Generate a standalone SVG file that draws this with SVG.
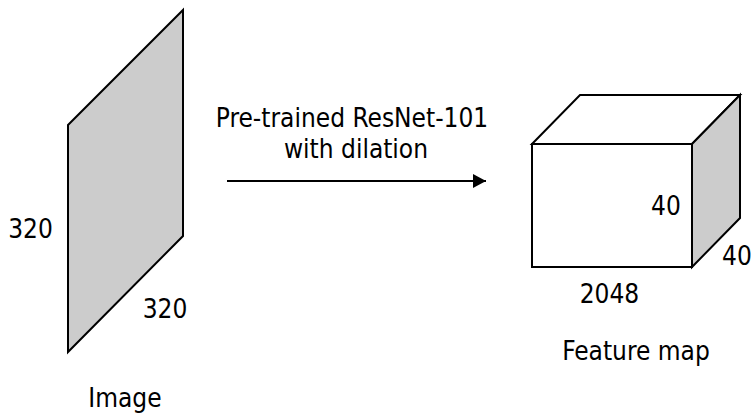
<svg xmlns="http://www.w3.org/2000/svg" width="755" height="413" viewBox="0 0 755 413">
  <style>
    .shape { stroke: #000; stroke-width: 2; stroke-linejoin: miter; }
    .gray { fill: #cccccc; }
    .white { fill: #ffffff; }
    .label { font-family: "DejaVu Sans Condensed", "DejaVu Sans", sans-serif; font-stretch: condensed; font-size: 26px; fill: #000; text-anchor: middle; }
  </style>
  <defs>
    <marker id="arrowhead" markerWidth="14" markerHeight="14" refX="13" refY="7" orient="auto" markerUnits="userSpaceOnUse">
      <path d="M0,0 L13,7 L0,14 Z" fill="#000"/>
    </marker>
  </defs>
  <rect width="755" height="413" fill="#ffffff"/>

  <!-- input image plane -->
  <g id="image">
    <polygon class="shape gray" points="68,125 183,10 183,236 68,352"/>
    <text class="label" x="30.5" y="238">320</text>
    <text class="label" x="165" y="318">320</text>
    <text class="label" x="125" y="407">Image</text>
  </g>

  <!-- backbone transform -->
  <g id="connectors">
    <line x1="227" y1="181" x2="486" y2="181" stroke="#000" stroke-width="2" marker-end="url(#arrowhead)"/>
    <text class="label" x="352" y="127">Pre-trained ResNet-101</text>
    <text class="label" x="356" y="158">with dilation</text>
  </g>

  <!-- output feature volume -->
  <g id="feature-map">
    <polygon class="shape white" points="532,144 580,95 740,95 692,144"/>
    <polygon class="shape gray" points="692,144 740,95 740,218 692,267"/>
    <rect class="shape white" x="532" y="144" width="160" height="123"/>
    <text class="label" x="666" y="215">40</text>
    <text class="label" x="737" y="265">40</text>
    <text class="label" x="609.5" y="303">2048</text>
    <text class="label" x="636" y="360">Feature map</text>
  </g>
</svg>
